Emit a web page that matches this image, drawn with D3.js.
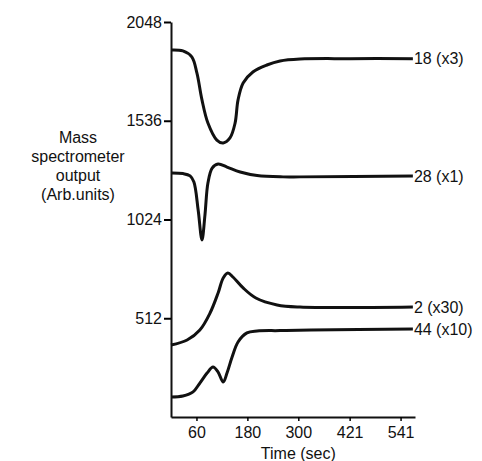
<!DOCTYPE html>
<html>
<head>
<meta charset="utf-8">
<script src="https://cdn.jsdelivr.net/npm/d3@7"></script>
<style>
  body { margin: 0; background: #fff; }
  text { font-family: "Liberation Sans", Arial, sans-serif; fill: #111; }
</style>
</head>
<body>
<div id="chart"></div>
<script>
// time points (sec) and values
var t18 = [0, 28, 49, 61, 73, 87, 108, 123, 139, 151, 158, 170, 193, 226, 257, 304, 422, 570];
var v18 = [1903, 1898, 1867, 1784, 1644, 1524, 1436, 1421, 1447, 1524, 1644, 1732, 1789, 1825, 1846, 1856, 1858, 1858];

var t28 = [0, 28, 45, 54, 64, 73, 80, 87, 97, 111, 132, 163, 203, 264, 304, 570];
var v28 = [1265, 1262, 1250, 1218, 1073, 918, 1047, 1213, 1291, 1312, 1296, 1270, 1252, 1245, 1245, 1250];

var t2 = [0, 38, 68, 92, 111, 123, 134, 146, 170, 200, 250, 304, 570];
var v2 = [373, 399, 451, 539, 643, 721, 747, 726, 669, 617, 581, 570, 570];

var t44 = [0, 28, 52, 68, 85, 99, 111, 123, 132, 144, 158, 179, 203, 257, 330, 570];
var v44 = [104, 109, 130, 176, 228, 259, 233, 181, 228, 311, 389, 436, 446, 448, 451, 456];

var seriesNames = ['18 (x3)', '28 (x1)', '2 (x30)', '44 (x10)'];
var xTicks = [60, 180, 300, 421, 541];
var yTicks = [512, 1024, 1536, 2048];
var yLabelLines = ['Mass', 'spectrometer', 'output', '(Arb.units)'];

var margin = { top: 22, right: 67, bottom: 44, left: 171 },
  width = 482 - margin.left - margin.right,
  height = 461 - margin.top - margin.bottom;

var svg = d3
  .select('#chart')
  .append('svg')
  .attr('width', 482)
  .attr('height', 461)
  .append('g')
  .attr('transform', 'translate(' + margin.left + ',' + margin.top + ')');

var xScale = d3.scaleLinear().domain([0, 575]).range([0, width]);
var yScale = d3.scaleLinear().domain([0, 2048]).range([height, 0]);

// x axis
var xAxis = svg
  .append('g')
  .attr('transform', 'translate(0,' + height + ')')
  .call(d3.axisBottom(xScale).tickValues(xTicks).tickSize(4).tickSizeOuter(0).tickPadding(6).tickFormat(d3.format('d')));
xAxis.select('.domain').attr('stroke-width', 2).attr('stroke', '#111');
xAxis.selectAll('.tick line').attr('stroke-width', 1.5);
xAxis.selectAll('.tick text').style('font-size', '16px');

svg
  .append('text')
  .attr('x', xScale(300))
  .attr('y', height + 42)
  .style('text-anchor', 'middle')
  .style('font-size', '16px')
  .text('Time (sec)');

// y axis
var yAxis = svg
  .append('g')
  .call(d3.axisLeft(yScale).tickValues(yTicks).tickSize(7).tickSizeOuter(0).tickPadding(2).tickFormat(d3.format('d')));
yAxis.select('.domain').attr('stroke-width', 2).attr('stroke', '#111');
yAxis.selectAll('.tick line').attr('stroke-width', 2);
yAxis.selectAll('.tick text').style('font-size', '16px');

svg
  .append('g')
  .selectAll('text')
  .data(yLabelLines)
  .enter()
  .append('text')
  .attr('x', -93)
  .attr('y', function (d, i) {
    return 121 + i * 19;
  })
  .style('text-anchor', 'middle')
  .style('font-size', '16px')
  .text(function (d) {
    return d;
  });

// build series
function zip(ts, vs) {
  return ts.map(function (t, i) {
    return { time: t, value: vs[i] };
  });
}
var dataReady = [zip(t18, v18), zip(t28, v28), zip(t2, v2), zip(t44, v44)].map(function (vals, i) {
  return { name: seriesNames[i], values: vals };
});

var line = d3
  .line()
  .curve(d3.curveCatmullRom.alpha(0.5))
  .x(function (d) {
    return xScale(d.time);
  })
  .y(function (d) {
    return yScale(d.value);
  });

svg
  .selectAll('myLines')
  .data(dataReady)
  .enter()
  .append('path')
  .attr('d', function (d) {
    return line(d.values);
  })
  .attr('stroke', '#111')
  .style('stroke-width', 3)
  .style('fill', 'none');

svg
  .selectAll('myLabels')
  .data(dataReady)
  .enter()
  .append('text')
  .attr('x', function (d) {
    return xScale(d.values[d.values.length - 1].time) + 1;
  })
  .attr('y', function (d) {
    return yScale(d.values[d.values.length - 1].value);
  })
  .attr('dy', '0.35em')
  .style('font-size', '16px')
  .text(function (d) {
    return d.name;
  });
</script>
</body>
</html>
